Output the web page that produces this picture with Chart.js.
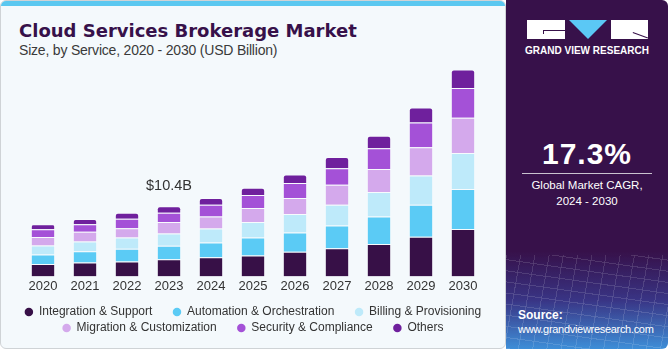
<!DOCTYPE html>
<html lang="en">
  <head>
    <meta charset="UTF-8" />
    <title>Cloud Services Brokerage Market</title>
    <script src="https://cdn.jsdelivr.net/npm/chart.js"></script>
    <style>
      html, body { margin: 0; padding: 0; background: #ffffff; }
      body { width: 670px; height: 350px; position: relative; overflow: hidden; font-family: "Liberation Sans", Arial, sans-serif; }
      .left-panel {
        position: absolute; left: 0; top: 0; width: 504px; height: 347px;
        background: #f4f9fc; border: 1px solid #cfd3d6; border-radius: 6px; overflow: hidden;
      }
      .top-strip { position: absolute; left: 0; top: 0; width: 100%; height: 5px; background: #5bc8f0; }
      .title {
        position: absolute; left: 18px; top: 19.5px; line-height: 20px;
        font-family: "DejaVu Sans", sans-serif; font-weight: bold; font-size: 18px; color: #37114a; white-space: nowrap;
      }
      .subtitle {
        position: absolute; left: 18px; top: 40.5px; line-height: 16px;
        font-size: 14px; letter-spacing: -0.2px; color: #3a3a3a; white-space: nowrap;
      }
      #brokerChart { position: absolute; left: 0; top: 60px; }
      .right-panel {
        position: absolute; left: 506px; top: 0; width: 162px; height: 349px;
        background: linear-gradient(to bottom, #37114a 0%, #37114a 72%, #3a3585 86%, #3f8fd8 100%);
        border-radius: 0 6px 6px 0; overflow: hidden; color: #ffffff;
      }
      .grid-fx {
        position: absolute; left: 0; top: 255px; width: 100%; height: 94px; opacity: 0.18;
        background:
          repeating-linear-gradient(100deg, rgba(255,255,255,0.7) 0 1px, transparent 1px 14px),
          repeating-linear-gradient(8deg, rgba(255,255,255,0.7) 0 1px, transparent 1px 11px);
      }
      .logo-g { position: absolute; left: 21px; top: 20px; width: 38px; height: 19px; background: #fff; }
      .logo-g .h { position: absolute; left: 16px; top: 10px; width: 22px; height: 1px; background: #37114a; }
      .logo-g .v { position: absolute; left: 16px; top: 10px; width: 1px; height: 4px; background: #37114a; }
      .logo-tri {
        position: absolute; left: 63px; top: 20px; width: 0; height: 0;
        border-left: 19.5px solid transparent; border-right: 19.5px solid transparent; border-top: 19px solid #5bc8f5;
      }
      .logo-r { position: absolute; left: 105px; top: 20px; width: 37px; height: 19px; background: #fff; overflow: hidden; }
      .logo-r .d { position: absolute; left: 22px; top: 12px; width: 16px; height: 1px; background: #37114a; transform: rotate(20deg); transform-origin: 0 0; }
      .logo-text {
        position: absolute; left: 0; width: 162px; top: 45px; text-align: center;
        font-size: 10px; font-weight: bold; letter-spacing: 0px; line-height: 12px;
      }
      .cagr {
        position: absolute; left: 0; width: 162px; top: 137px; text-align: center;
        font-size: 30px; font-weight: bold; letter-spacing: 1px; line-height: 34px;
      }
      .cagr-line { position: absolute; left: 16px; top: 173px; width: 130px; height: 1px; background: #c9c3cf; }
      .cagr-text {
        position: absolute; left: 0; width: 162px; top: 178px; text-align: center;
        font-size: 11.5px; line-height: 15.5px;
      }
      .source {
        position: absolute; left: 12px; top: 308px; font-size: 11px; line-height: 14px; letter-spacing: -0.3px;
      }
      .source b { font-size: 12px; letter-spacing: 0; }
    </style>
  </head>
  <body>
    <div class="left-panel">
      <div class="top-strip"></div>
      <div class="title">Cloud Services Brokerage Market</div>
      <div class="subtitle">Size, by Service, 2020 - 2030 (USD Billion)</div>
    </div>
    <canvas id="brokerChart" width="506" height="288"></canvas>

    <div class="right-panel">
      <div class="grid-fx"></div>
      <div class="logo-g"><div class="h"></div><div class="v"></div></div>
      <div class="logo-tri"></div>
      <div class="logo-r"><div class="d"></div></div>
      <div class="logo-text">GRAND VIEW RESEARCH</div>
      <div class="cagr">17.3%</div>
      <div class="cagr-line"></div>
      <div class="cagr-text">Global Market CAGR,<br />2024 - 2030</div>
      <div class="source"><b>Source:</b><br />www.grandviewresearch.com</div>
    </div>

    <script>
      // chart data (USD Billion)
      const years = ["2020", "2021", "2022", "2023", "2024", "2025", "2026", "2027", "2028", "2029", "2030"];
      const seriesNames = [
        "Integration & Support",
        "Automation & Orchestration",
        "Billing & Provisioning",
        "Migration & Customization",
        "Security & Compliance",
        "Others",
      ];
      const integration = [1.85, 2.05, 2.20, 2.53, 2.83, 3.08, 3.66, 4.15, 4.78, 5.86, 7.03];
      const automation = [1.41, 1.66, 1.90, 2.01, 2.20, 2.68, 2.83, 3.37, 4.10, 4.73, 5.90];
      const billing = [1.32, 1.47, 1.66, 1.80, 2.05, 2.30, 2.74, 3.08, 3.62, 4.35, 5.32];
      const migration = [1.27, 1.42, 1.36, 1.71, 1.80, 2.05, 2.39, 2.97, 3.41, 4.19, 5.23];
      const security = [1.13, 1.11, 1.42, 1.36, 1.71, 1.95, 2.20, 2.45, 3.08, 3.66, 4.40];
      const others = [0.73, 0.79, 0.88, 0.98, 1.03, 1.07, 1.27, 1.66, 1.82, 2.20, 2.74];
      const seriesColors = ["#371047", "#5bcbf5", "#beeafa", "#d4a9ec", "#a451d7", "#6f209d"];
      const calloutIndex = 3; // 2023 total shown above its bar

      document.addEventListener("DOMContentLoaded", function () {
        const allSeries = [integration, automation, billing, migration, security, others];
        const rowEnds = [2, 5]; // last legend item on each row
        const gapSpaces = "     ";

        const datasets = allSeries.map((values, i) => ({
          label: seriesNames[i],
          data: values,
          backgroundColor: seriesColors[i],
          borderColor: "rgba(255,255,255,0.3)",
          borderWidth: 1,
          borderRadius: i === allSeries.length - 1 ? { topLeft: 3, topRight: 3, bottomLeft: 0, bottomRight: 0 } : 0,
          barPercentage: 0.58,
          categoryPercentage: 1,
        }));

        // total label over one bar, placed from the bar element itself
        const totalLabel = {
          id: "totalLabel",
          afterDatasetsDraw(chart) {
            const meta = chart.getDatasetMeta(allSeries.length - 1);
            const bar = meta.data[calloutIndex];
            if (!bar) return;
            const total = allSeries.reduce((s, arr) => s + arr[calloutIndex], 0);
            const ctx = chart.ctx;
            ctx.save();
            ctx.font = '14.5px "Liberation Sans", Arial, sans-serif';
            ctx.fillStyle = "#333333";
            ctx.textAlign = "center";
            ctx.textBaseline = "middle";
            ctx.fillText("$" + total.toFixed(1) + "B", bar.x, bar.y - 20);
            ctx.restore();
          },
        };

        const ctx = document.getElementById("brokerChart").getContext("2d");
        new Chart(ctx, {
          type: "bar",
          data: { labels: years, datasets: datasets },
          plugins: [totalLabel],
          options: {
            responsive: false,
            animation: false,
            devicePixelRatio: 1,
            layout: { padding: { top: 7, bottom: 4, left: 0, right: 0 } },
            scales: {
              x: {
                stacked: true,
                grid: { display: false, drawTicks: false },
                border: { display: false },
                ticks: {
                  padding: 2,
                  color: "#333333",
                  font: { family: '"Liberation Sans", Arial, sans-serif', size: 13 },
                },
                afterFit(scale) {
                  scale.height += 6;
                },
              },
              y: {
                stacked: true,
                min: 0,
                max: 31,
                grid: { display: false },
                border: { display: false },
                ticks: { display: false },
                afterFit(scale) {
                  scale.width = 22;
                },
              },
              ySpacer: {
                type: "linear",
                position: "right",
                grid: { display: false },
                border: { display: false },
                ticks: { display: false },
                afterFit(scale) {
                  scale.width = 22;
                },
              },
            },
            plugins: {
              tooltip: { enabled: false },
              legend: {
                position: "bottom",
                labels: {
                  usePointStyle: true,
                  boxWidth: 8,
                  boxHeight: 6,
                  padding: 4,
                  color: "#333333",
                  font: { family: '"Liberation Sans", Arial, sans-serif', size: 12 },
                  generateLabels(chart) {
                    return Chart.defaults.plugins.legend.labels.generateLabels(chart).map((item, i) => {
                      item.text = rowEnds.includes(i) ? item.text : item.text + gapSpaces;
                      item.fillStyle = seriesColors[i];
                      item.strokeStyle = seriesColors[i];
                      item.lineWidth = 0;
                      item.pointStyle = "circle";
                      return item;
                    });
                  },
                },
              },
            },
          },
        });
      });
    </script>
  </body>
</html>
